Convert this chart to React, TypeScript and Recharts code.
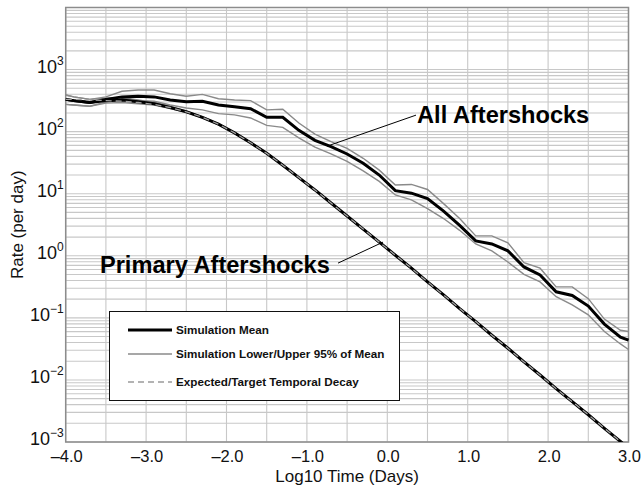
import React from "react";
import {
  ComposedChart,
  Line,
  XAxis,
  YAxis,
  CartesianGrid,
  ReferenceLine,
  ReferenceDot,
  ReferenceArea,
  Legend,
} from "recharts";

// ---- data ----
const logTimeDays = [
  -4.0, -3.9, -3.7, -3.5, -3.3, -3.1, -2.9, -2.7, -2.5, -2.3, -2.1, -1.9, -1.7,
  -1.5, -1.3, -1.1, -0.9, -0.7, -0.5, -0.3, -0.1, 0.1, 0.3, 0.5, 0.7, 0.9, 1.1,
  1.3, 1.5, 1.7, 1.9, 2.1, 2.3, 2.5, 2.7, 2.9, 3.0,
];

const allMean = [
  331, 316, 295, 331, 363, 372, 363, 324, 302, 309, 269, 251, 234, 170, 170,
  105, 72.4, 57.5, 43.7, 30.9, 20.0, 11.2, 10.2, 8.32, 5.25, 3.09, 1.74, 1.55,
  1.2, 0.661, 0.49, 0.263, 0.229, 0.155, 0.0794, 0.049, 0.0437,
];
const allUpper = [
  389, 363, 331, 363, 447, 468, 468, 407, 372, 398, 339, 324, 316, 224, 229,
  138, 91.2, 69.2, 53.7, 37.2, 24.0, 13.8, 14.1, 11.7, 6.92, 3.98, 2.09, 2.09,
  1.62, 0.776, 0.631, 0.316, 0.316, 0.204, 0.0955, 0.0631, 0.0603,
];
const allLower = [
  275, 269, 257, 302, 339, 316, 309, 269, 240, 224, 195, 186, 166, 126, 117,
  79.4, 56.2, 43.7, 33.1, 23.4, 15.8, 9.55, 7.94, 5.75, 3.98, 2.57, 1.55, 1.2,
  0.794, 0.501, 0.38, 0.219, 0.162, 0.112, 0.0603, 0.038, 0.0309,
];

const primaryMean = [
  331, 316, 295, 316, 324, 302, 282, 245, 209, 170, 132, 95.5, 66.1, 44.7, 28.8,
  18.2, 11.5, 7.08, 4.37, 2.69, 1.66, 1.02, 0.631, 0.38, 0.234, 0.141, 0.0871,
  0.0525, 0.0324, 0.0195, 0.012, 0.00724, 0.00447, 0.00275, 0.00166, 0.00102,
  0.000794,
];
const primaryUpper = [
  389, 363, 331, 347, 355, 324, 295, 255, 214, 174, 135, 97.5, 67.5, 45.6, 29.4,
  18.6, 11.7, 7.22, 4.46, 2.74, 1.69, 1.04, 0.644, 0.388, 0.239, 0.144, 0.0889,
  0.0536, 0.0331, 0.0199, 0.0122, 0.00739, 0.00456, 0.00281, 0.00169, 0.00104,
  0.00081,
];
const primaryLower = [
  275, 269, 257, 288, 295, 282, 269, 236, 204, 166, 129, 93.5, 64.8, 43.8, 28.2,
  17.8, 11.3, 6.94, 4.28, 2.64, 1.63, 1.0, 0.618, 0.372, 0.229, 0.138, 0.0853,
  0.0514, 0.0318, 0.0191, 0.0118, 0.0071, 0.00438, 0.0027, 0.00163, 0.001,
  0.000778,
];
const expectedDecay = [
  331, 331, 324, 316, 309, 295, 275, 245, 209, 170, 132, 95.5, 66.1, 44.7, 28.8,
  18.2, 11.5, 7.08, 4.37, 2.69, 1.66, 1.02, 0.631, 0.38, 0.234, 0.141, 0.0871,
  0.0525, 0.0324, 0.0195, 0.012, 0.00724, 0.00447, 0.00275, 0.00166, 0.00102,
  0.000794,
];

const xTicks = [-4, -3.5, -3, -2.5, -2, -1.5, -1, -0.5, 0, 0.5, 1, 1.5, 2, 2.5, 3];
const xTickLabels: Record<string, string> = {
  "-4": "\u20134.0",
  "-3": "\u20133.0",
  "-2": "\u20132.0",
  "-1": "\u20131.0",
  "0": "0.0",
  "1": "1.0",
  "2": "2.0",
  "3": "3.0",
};
const yDecadeExponents = [-3, -2, -1, 0, 1, 2, 3];
const yMinorMultipliers = [1, 2, 3, 4, 5, 6, 7, 8, 9];

const yTicks: number[] = [];
yDecadeExponents.forEach((e) =>
  yMinorMultipliers.forEach((m) => yTicks.push(Number((m * Math.pow(10, e)).toPrecision(3))))
);
yTicks.push(10000);

const legendItems = [
  { label: "Simulation Mean", color: "#000", width: 3, dash: undefined as string | undefined },
  { label: "Simulation Lower/Upper 95% of Mean", color: "#8a8a8a", width: 1.4, dash: undefined },
  { label: "Expected/Target Temporal Decay", color: "#9a9a9a", width: 1.4, dash: "6 4" },
];

const data = logTimeDays.map((x, i) => ({
  x,
  allMean: allMean[i],
  allUpper: allUpper[i],
  allLower: allLower[i],
  primaryMean: primaryMean[i],
  primaryUpper: primaryUpper[i],
  primaryLower: primaryLower[i],
  expected: expectedDecay[i],
}));

const FONT = "'Liberation Sans', Arial, Helvetica, sans-serif";

const YTick = (props: any) => {
  const { x, y, payload } = props;
  const v = payload.value;
  const lg = Math.log10(v);
  const e = Math.round(lg);
  if (Math.abs(lg - e) > 1e-6 || e > 3) return null;
  const expText = e < 0 ? "\u2212" + Math.abs(e) : String(e);
  return (
    <text x={x} y={y + 3} textAnchor="end" fontFamily={FONT} fontSize={18} fill="#111">
      <tspan>10</tspan>
      <tspan dy={-8} fontSize={12}>
        {expText}
      </tspan>
    </text>
  );
};

const XTick = (props: any) => {
  const { x, y, payload } = props;
  const lab = xTickLabels[String(payload.value)];
  if (!lab) return null;
  return (
    <text x={x + 1} y={y + 12} textAnchor="middle" fontFamily={FONT} fontSize={16.5} fill="#111">
      {lab}
    </text>
  );
};

const LegendBox = () => (
  <div
    style={{
      width: 291,
      height: 90,
      boxSizing: "border-box",
      border: "1.3px solid #111",
      background: "#fff",
      position: "relative",
      fontFamily: FONT,
    }}
  >
    {legendItems.map((it, i) => {
      const cy = [18, 42, 69.5][i];
      return (
        <React.Fragment key={it.label}>
          <svg
            width={44}
            height={6}
            style={{ position: "absolute", left: 18, top: cy - 3 }}
          >
            <line
              x1={0}
              y1={3}
              x2={44}
              y2={3}
              stroke={it.color}
              strokeWidth={it.width}
              strokeDasharray={it.dash}
            />
          </svg>
          <div
            style={{
              position: "absolute",
              left: 66,
              top: cy - 8,
              fontSize: 11.7,
              fontWeight: "bold",
              lineHeight: "16px",
              whiteSpace: "nowrap",
              color: "#111",
            }}
          >
            {it.label}
          </div>
        </React.Fragment>
      );
    })}
  </div>
);

const textShape = (label: string) => (p: any) => (
  <text
    x={p.cx}
    y={p.cy}
    fontFamily={FONT}
    fontSize={23.6}
    fontWeight="bold"
    fill="#000"
  >
    {label}
  </text>
);

export default function App() {
  return (
    <div style={{ position: "absolute", left: 0, top: 0, background: "#fff" }}>
      <ComposedChart
        width={641}
        height={491}
        data={data}
        margin={{ top: 7.5, right: 12.5, left: 0, bottom: 0 }}
      >
        <CartesianGrid stroke="#c8c8c8" strokeWidth={1.1} />
        <XAxis
          dataKey="x"
          type="number"
          domain={[-4, 3]}
          ticks={xTicks}
          interval={0}
          tickLine={false}
          axisLine={false}
          tick={<XTick />}
          height={49}
          label={{
            content: (p: any) => (
              <text
                x={p.viewBox.x + p.viewBox.width / 2}
                y={482}
                textAnchor="middle"
                fontFamily={FONT}
                fontSize={17}
                fill="#111"
              >
                Log10 Time (Days)
              </text>
            ),
          }}
        />
        <YAxis
          type="number"
          scale="log"
          domain={[0.001, 10000]}
          ticks={yTicks}
          interval={0}
          allowDataOverflow
          tickLine={false}
          axisLine={false}
          tickSize={2}
          tickMargin={0}
          tick={<YTick />}
          width={65.7}
          label={{
            content: (p: any) => {
              const cy = p.viewBox.y + p.viewBox.height / 2;
              return (
                <text
                  x={23}
                  y={cy}
                  transform={`rotate(-90 23 ${cy})`}
                  textAnchor="middle"
                  fontFamily={FONT}
                  fontSize={17}
                  fill="#111"
                >
                  Rate (per day)
                </text>
              );
            },
          }}
        />
        <ReferenceArea
          x1={-4}
          x2={3}
          y1={0.001}
          y2={10000}
          fill="none"
          stroke="#8c8c8c"
          strokeWidth={1.5}
          fillOpacity={0}
        />
        <Line dataKey="allUpper" stroke="#8a8a8a" strokeWidth={1.4} dot={false} isAnimationActive={false} legendType="none" />
        <Line dataKey="allLower" stroke="#8a8a8a" strokeWidth={1.4} dot={false} isAnimationActive={false} legendType="none" />
        <Line dataKey="primaryUpper" stroke="#8a8a8a" strokeWidth={1.4} dot={false} isAnimationActive={false} legendType="none" />
        <Line dataKey="primaryLower" stroke="#8a8a8a" strokeWidth={1.4} dot={false} isAnimationActive={false} legendType="none" />
        <Line dataKey="allMean" stroke="#000" strokeWidth={3} dot={false} isAnimationActive={false} legendType="none" />
        <Line dataKey="primaryMean" stroke="#000" strokeWidth={3} dot={false} isAnimationActive={false} legendType="none" />
        <Line dataKey="expected" stroke="#a0a0a0" strokeWidth={1.3} strokeDasharray="6 4" dot={false} isAnimationActive={false} legendType="none" />
        <ReferenceLine
          segment={[
            { x: 0.357, y: 184.5 },
            { x: -0.75, y: 58.3 },
          ]}
          stroke="#000"
          strokeWidth={1}
        />
        <ReferenceLine
          segment={[
            { x: -0.613, y: 0.762 },
            { x: -0.053, y: 1.66 },
          ]}
          stroke="#000"
          strokeWidth={1}
        />
        <ReferenceDot x={0.37} y={137} r={0} shape={textShape("All Aftershocks")} />
        <ReferenceDot x={-3.574} y={0.532} r={0} shape={textShape("Primary Aftershocks")} />
        <Legend
          layout="vertical"
          verticalAlign="middle"
          align="center"
          wrapperStyle={{ left: 109, top: 311, width: 291, height: 90, margin: 0, padding: 0 }}
          content={() => <LegendBox />}
        />
      </ComposedChart>
    </div>
  );
}
